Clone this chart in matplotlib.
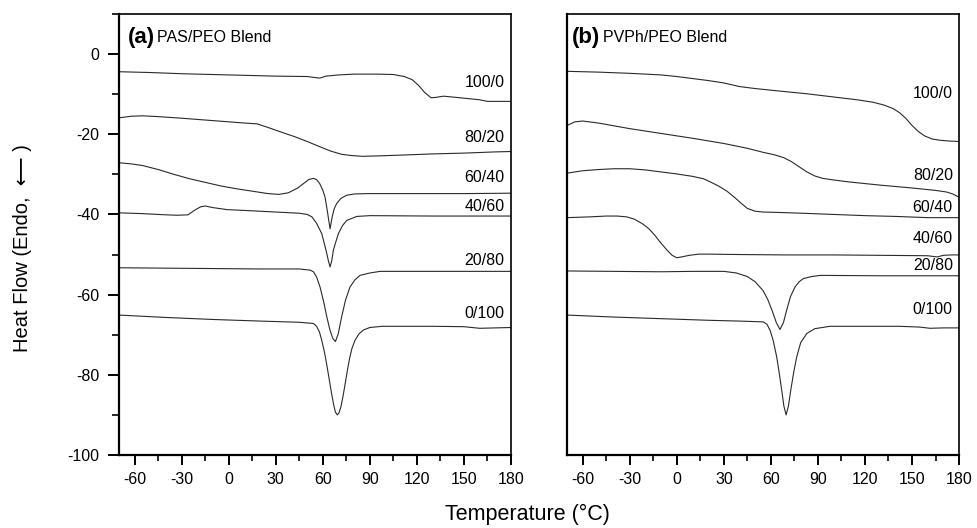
import matplotlib
matplotlib.use("Agg")
import matplotlib.pyplot as plt
from matplotlib.ticker import MultipleLocator

plt.rcParams['font.family'] = ['Liberation Sans', 'DejaVu Sans']
plt.rcParams['axes.unicode_minus'] = False

# -----------------------------
# data (temperature in C, heat flow a.u.)
# -----------------------------
# (a) PAS/PEO
T_A_100 = [-70, -50, -30, -10, 10, 30, 50, 58, 62, 70, 80, 95, 105, 112, 117, 121, 125, 129, 132, 137, 145, 155, 160, 165, 172, 180]
HF_A_100 = [-4.4, -4.6, -4.9, -5.1, -5.3, -5.5, -5.6, -6.0, -5.5, -5.2, -5.0, -5.0, -5.1, -5.6, -6.4, -7.8, -9.6, -10.9, -10.8, -10.5, -10.8, -11.2, -11.4, -11.8, -11.8, -11.8]

T_A_80 = [-70, -62, -55, -45, -30, -10, 10, 18, 25, 33, 42, 50, 58, 65, 72, 78, 85, 95, 110, 130, 150, 170, 180]
HF_A_80 = [-15.9, -15.5, -15.4, -15.6, -16.0, -16.6, -17.2, -17.4, -18.3, -19.4, -20.6, -21.8, -23.1, -24.2, -25.0, -25.3, -25.5, -25.4, -25.2, -24.9, -24.7, -24.4, -24.3]

T_A_60 = [-70, -62, -55, -45, -35, -25, -15, -5, 5, 15, 25, 32, 38, 44, 48, 51, 54, 56, 58, 60, 61.4, 62.8, 64.6, 66, 67.3, 68.8, 71.5, 75.2, 80, 88, 120, 150, 180]
HF_A_60 = [-27.1, -27.4, -27.8, -28.8, -30.0, -31.1, -32.0, -32.9, -33.6, -34.2, -34.8, -35.0, -34.6, -33.4, -32.2, -31.3, -31.0, -31.3, -32.3, -34.0, -35.7, -39.0, -43.6, -40.5, -38.5, -37.3, -36.0, -35.2, -34.9, -34.8, -34.8, -34.8, -34.7]

T_A_40 = [-70, -55, -40, -33, -26, -22, -18, -15, -10, -1, 10, 30, 45, 50, 53, 56, 59.3, 62, 63.5, 64.6, 65.7, 66.7, 68.3, 69.9, 72.5, 75.2, 81.6, 90, 130, 180]
HF_A_40 = [-39.6, -39.8, -40.1, -40.2, -40.1, -39.0, -38.1, -37.9, -38.3, -38.8, -39.0, -39.4, -39.7, -40.0, -40.6, -42.2, -44.8, -48.9, -51.5, -53.1, -51.5, -48.9, -46.8, -44.8, -42.8, -41.5, -40.5, -40.3, -40.4, -40.4]

T_A_20 = [-70, -40, -10, 20, 45, 52, 54, 56, 58.2, 60.4, 62.5, 64.5, 66.3, 68, 69.8, 72, 74.5, 77.3, 80.5, 83.7, 90, 96.5, 130, 160, 180]
HF_A_20 = [-53.3, -53.4, -53.5, -53.6, -53.6, -53.9, -54.3, -55.6, -58.1, -61.6, -65.5, -68.8, -70.9, -71.7, -69.8, -65.5, -61.3, -58.1, -56.3, -55.2, -54.6, -54.2, -54.2, -54.2, -54.2]

T_A_0 = [-70, -40, -10, 20, 45, 54, 56, 57.8, 59.3, 61, 62.5, 64, 65.5, 66.8, 68, 69.2, 70.3, 71.5, 72.8, 74.2, 75.6, 77, 78.5, 80.5, 83, 86, 90, 98, 130, 150, 160, 170, 180]
HF_A_0 = [-65.1, -65.7, -66.2, -66.6, -66.9, -67.2, -67.9, -69.3, -71.4, -74.3, -77.5, -81.0, -84.5, -87.3, -89.3, -90.0, -89.5, -88.0, -85.5, -82.3, -79.0, -76.0, -73.5, -71.4, -69.8, -68.8, -68.2, -67.9, -67.9, -68.0, -68.4, -68.3, -68.2]

# (b) PVPh/PEO
T_B_100 = [-70, -50, -30, -10, 0, 10, 20, 30, 40, 50, 60, 70, 83, 100, 115, 125, 132, 138, 142, 146, 150, 154, 158, 163, 168, 174, 180]
HF_B_100 = [-4.3, -4.5, -4.8, -5.2, -5.6, -6.1, -6.6, -7.2, -8.1, -8.6, -9.0, -9.4, -9.9, -10.7, -11.4, -12.0, -12.7, -13.6, -14.6, -16.0, -17.8, -19.3, -20.4, -21.2, -21.5, -21.7, -21.8]

T_B_80 = [-70, -65, -60, -50, -30, -10, 10, 30, 45, 55, 62, 68, 73, 78, 83, 88, 93, 100, 110, 130, 150, 165, 172, 176, 180]
HF_B_80 = [-17.8, -16.9, -16.7, -17.2, -18.6, -19.8, -21.0, -22.3, -23.5, -24.5, -25.1, -25.8, -26.8, -28.1, -29.4, -30.4, -31.0, -31.4, -31.9, -32.7, -33.4, -34.0, -34.4, -34.9, -35.7]

T_B_60 = [-70, -60, -50, -40, -30, -20, -10, 0, 10, 17, 22, 27, 32, 37, 41, 45, 50, 55, 65, 80, 100, 120, 140, 160, 180]
HF_B_60 = [-29.7, -29.1, -28.8, -28.6, -28.6, -28.9, -29.4, -29.9, -30.5, -31.1, -32.0, -33.0, -34.2, -35.8, -37.2, -38.5, -39.2, -39.4, -39.5, -39.7, -40.0, -40.3, -40.5, -40.8, -40.8]

T_B_40 = [-70, -55, -45, -38, -32, -27, -22, -18, -14, -10, -6, -3, 0, 3, 8, 14, 20, 40, 70, 100, 130, 160, 166, 170, 175, 180]
HF_B_40 = [-40.8, -40.6, -40.4, -40.4, -40.6, -41.2, -42.3, -43.5, -45.2, -47.2, -49.0, -50.2, -50.8, -50.6, -50.2, -49.9, -49.9, -50.0, -50.1, -50.1, -50.2, -50.3, -50.6, -50.2, -50.1, -50.1]

T_B_20 = [-70, -40, -10, 10, 30, 38, 45, 50, 55, 58, 61, 63.5, 65.8, 68, 70, 72.5, 75.4, 78, 80.7, 86, 91.4, 130, 160, 180]
HF_B_20 = [-54.1, -54.2, -54.3, -54.2, -54.2, -54.6, -55.5, -56.8, -59.0, -61.2, -64.2, -67.0, -68.7, -67.0, -64.0, -60.5, -58.1, -56.8, -56.0, -55.5, -55.2, -55.3, -55.3, -55.3]

T_B_0 = [-70, -40, -10, 20, 40, 55.2, 57.5, 59.5, 61.5, 63.7, 65.3, 66.9, 68.3, 69.7, 71.2, 72.7, 74.5, 76.5, 79, 82.9, 88, 97.7, 120, 142, 155, 161.5, 170, 180]
HF_B_0 = [-65.1, -65.6, -66.0, -66.4, -66.6, -66.8, -67.4, -68.9, -71.5, -75.5, -79.5, -83.8, -87.8, -90.0, -87.8, -83.8, -79.5, -75.5, -72.0, -69.7, -68.5, -67.9, -67.9, -67.9, -68.1, -68.4, -68.3, -68.3]

LABELS = ["100/0", "80/20", "60/40", "40/60", "20/80", "0/100"]
LABEL_Y_A = [-7.1, -20.7, -30.7, -38.0, -51.4, -64.7]
LABEL_Y_B = [-9.8, -30.4, -38.2, -46.0, -52.7, -63.6]

X_TICKS = [-60, -30, 0, 30, 60, 90, 120, 150, 180]
Y_TICKS = [0, -20, -40, -60, -80, -100]

curves_a = [(T_A_100, HF_A_100), (T_A_80, HF_A_80), (T_A_60, HF_A_60),
            (T_A_40, HF_A_40), (T_A_20, HF_A_20), (T_A_0, HF_A_0)]
curves_b = [(T_B_100, HF_B_100), (T_B_80, HF_B_80), (T_B_60, HF_B_60),
            (T_B_40, HF_B_40), (T_B_20, HF_B_20), (T_B_0, HF_B_0)]

# -----------------------------
# plotting
# -----------------------------
fig = plt.figure(figsize=(9.78, 5.28), dpi=100)
ax1 = fig.add_axes([0.1217, 0.1383, 0.4008, 0.8352])
ax2 = fig.add_axes([0.5798, 0.1383, 0.4008, 0.8352])


def style_axis(ax):
    ax.set_xlim(-70, 180)
    ax.set_ylim(-100, 10)
    ax.set_xticks(X_TICKS)
    ax.xaxis.set_minor_locator(MultipleLocator(15))
    ax.tick_params(axis='x', which='major', direction='out', length=7, width=1.4,
                   labelsize=11.5, pad=5, top=False)
    ax.tick_params(axis='x', which='minor', direction='out', length=4.3, width=1.2, top=False)
    for side in ['left', 'bottom']:
        ax.spines[side].set_linewidth(1.6)
    for side in ['top', 'right']:
        ax.spines[side].set_linewidth(1.2)


def draw_panel(ax, curves, label_y, tag, name):
    for (t, hf), lab, ly in zip(curves, LABELS, label_y):
        ax.plot(t, hf, color='#2a2a2a', lw=0.8)
        ax.text(176, ly, lab, ha='right', va='center', fontsize=11.5)
    ax.text(0.023 if tag == "(a)" else 0.012, 0.934, tag, transform=ax.transAxes,
            fontsize=16, fontweight='bold', va='baseline', ha='left')
    ax.text(0.097 if tag == "(a)" else 0.093, 0.936, name, transform=ax.transAxes,
            fontsize=11.5, va='baseline', ha='left')


style_axis(ax1)
style_axis(ax2)
draw_panel(ax1, curves_a, LABEL_Y_A, "(a)", "PAS/PEO Blend")
draw_panel(ax2, curves_b, LABEL_Y_B, "(b)", "PVPh/PEO Blend")

ax1.set_yticks(Y_TICKS)
ax1.yaxis.set_minor_locator(MultipleLocator(10))
ax1.tick_params(axis='y', which='major', direction='out', length=8, width=1.4,
                labelsize=11.5, pad=6, right=False)
ax1.tick_params(axis='y', which='minor', direction='out', length=5, width=1.2, right=False)

ax2.tick_params(axis='y', which='both', left=False, right=False, labelleft=False)

fig.text(0.0235, 0.53, "Heat Flow (Endo,  \u27f5 )", rotation=90,
         ha='center', va='center', fontsize=14.5)
fig.text(0.539, 0.025, "Temperature (\u00b0C)", ha='center', va='center', fontsize=15.5)

fig.savefig("out.png", dpi=100)
